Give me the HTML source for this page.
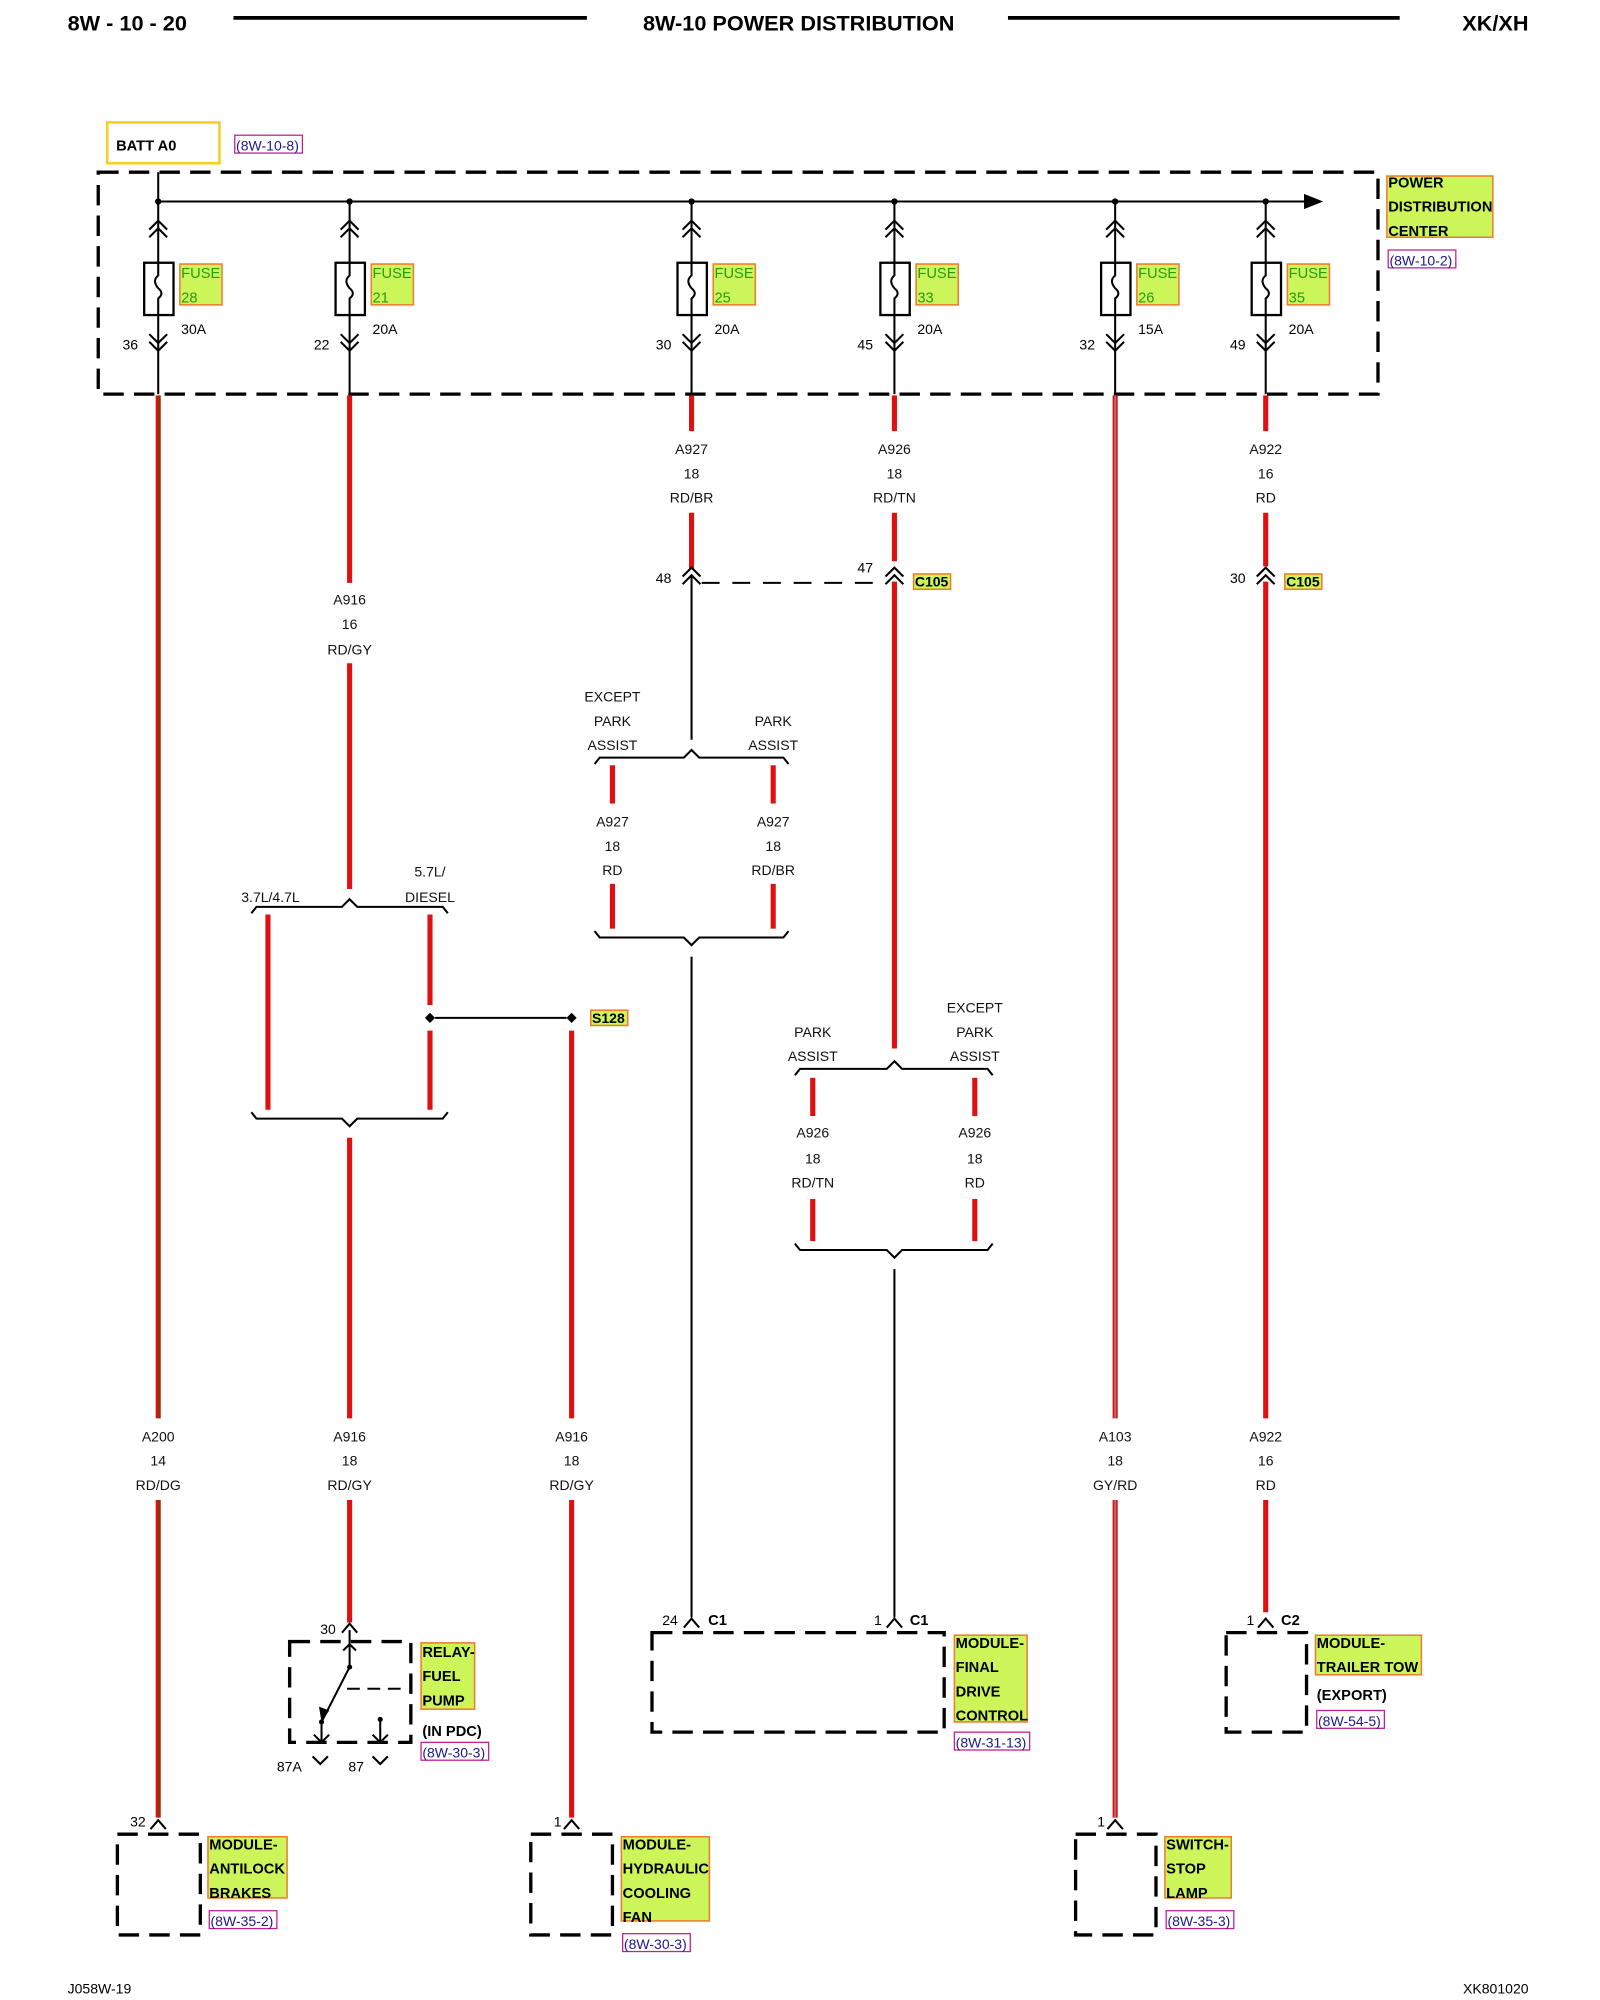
<!DOCTYPE html>
<html><head><meta charset="utf-8"><style>
html,body{margin:0;padding:0;background:#fff;}
svg{display:block;}
text{font-family:"Liberation Sans",sans-serif;}
.l{font-size:11px;text-anchor:middle;fill:#111;}
.b{font-size:11.5px;font-weight:bold;fill:#000;}
.f{font-size:11.5px;fill:#2a9a10;}
.r{font-size:11px;fill:#1a1a8a;}
.box{fill:#ccf55a;stroke:#f07a30;stroke-width:1.2;}
.rb{fill:none;stroke:#c02090;stroke-width:1;}
.red{stroke:#e01010;stroke-width:4;fill:none;}
.k{stroke:#000;stroke-width:1.6;fill:none;}
.d{stroke:#000;stroke-width:2.6;fill:none;stroke-dasharray:16,8;}
</style></head><body>
<svg width="1600" height="2000" viewBox="0 0 1254 1568" preserveAspectRatio="none" xmlns="http://www.w3.org/2000/svg">
<!-- header -->
<text x="53" y="24" style="font-size:17px;font-weight:bold">8W - 10 - 20</text>
<line x1="183" y1="14" x2="460" y2="14" stroke="#000" stroke-width="3"/>
<text x="626" y="24" style="font-size:17px;font-weight:bold" text-anchor="middle">8W-10 POWER DISTRIBUTION</text>
<line x1="790" y1="14" x2="1097" y2="14" stroke="#000" stroke-width="3"/>
<text x="1198" y="24" style="font-size:17px;font-weight:bold" text-anchor="end">XK/XH</text>

<!-- BATT -->
<rect x="84" y="96" width="88" height="32" fill="#fff" stroke="#f5d020" stroke-width="2"/>
<text x="91" y="118" class="b">BATT A0</text>
<rect x="184" y="106" width="53" height="14" class="rb"/><text x="185" y="118" class="r">(8W-10-8)</text>

<!-- PDC -->
<rect x="77" y="135" width="1003" height="174" class="d"/>
<line x1="124" y1="135" x2="124" y2="158" class="k"/>
<line x1="124" y1="158" x2="1025" y2="158" class="k"/>
<polygon points="1022,152 1037,158 1022,164" fill="#000"/>
<rect x="1087" y="138" width="83" height="48" class="box"/>
<text x="1088" y="147" class="b">POWER</text><text x="1088" y="166" class="b">DISTRIBUTION</text><text x="1088" y="185" class="b">CENTER</text>
<rect x="1088" y="196" width="53" height="14" class="rb"/><text x="1089" y="208" class="r">(8W-10-2)</text>

<g class="fuses">
<g transform="translate(124,0)">
<circle cx="0" cy="158" r="2.5"/><line x1="0" y1="158" x2="0" y2="309" class="k"/>
<polyline points="-7,186 0,179 7,186" class="k"/><polyline points="-7,180 0,173 7,180" class="k"/>
<rect x="-11" y="206" width="23" height="41" fill="#fff" stroke="#000" stroke-width="1.8"/>
<path d="M0,206 v10 q-5,4 0,10 q5,4 0,8 v13" class="k"/>
<polyline points="-7,262 0,269 7,262" class="k"/><polyline points="-7,268 0,275 7,268" class="k"/>
</g>
<g transform="translate(274,0)">
<circle cx="0" cy="158" r="2.5"/><line x1="0" y1="158" x2="0" y2="309" class="k"/>
<polyline points="-7,186 0,179 7,186" class="k"/><polyline points="-7,180 0,173 7,180" class="k"/>
<rect x="-11" y="206" width="23" height="41" fill="#fff" stroke="#000" stroke-width="1.8"/>
<path d="M0,206 v10 q-5,4 0,10 q5,4 0,8 v13" class="k"/>
<polyline points="-7,262 0,269 7,262" class="k"/><polyline points="-7,268 0,275 7,268" class="k"/>
</g>
<g transform="translate(542,0)">
<circle cx="0" cy="158" r="2.5"/><line x1="0" y1="158" x2="0" y2="309" class="k"/>
<polyline points="-7,186 0,179 7,186" class="k"/><polyline points="-7,180 0,173 7,180" class="k"/>
<rect x="-11" y="206" width="23" height="41" fill="#fff" stroke="#000" stroke-width="1.8"/>
<path d="M0,206 v10 q-5,4 0,10 q5,4 0,8 v13" class="k"/>
<polyline points="-7,262 0,269 7,262" class="k"/><polyline points="-7,268 0,275 7,268" class="k"/>
</g>
<g transform="translate(701,0)">
<circle cx="0" cy="158" r="2.5"/><line x1="0" y1="158" x2="0" y2="309" class="k"/>
<polyline points="-7,186 0,179 7,186" class="k"/><polyline points="-7,180 0,173 7,180" class="k"/>
<rect x="-11" y="206" width="23" height="41" fill="#fff" stroke="#000" stroke-width="1.8"/>
<path d="M0,206 v10 q-5,4 0,10 q5,4 0,8 v13" class="k"/>
<polyline points="-7,262 0,269 7,262" class="k"/><polyline points="-7,268 0,275 7,268" class="k"/>
</g>
<g transform="translate(874,0)">
<circle cx="0" cy="158" r="2.5"/><line x1="0" y1="158" x2="0" y2="309" class="k"/>
<polyline points="-7,186 0,179 7,186" class="k"/><polyline points="-7,180 0,173 7,180" class="k"/>
<rect x="-11" y="206" width="23" height="41" fill="#fff" stroke="#000" stroke-width="1.8"/>
<path d="M0,206 v10 q-5,4 0,10 q5,4 0,8 v13" class="k"/>
<polyline points="-7,262 0,269 7,262" class="k"/><polyline points="-7,268 0,275 7,268" class="k"/>
</g>
<g transform="translate(992,0)">
<circle cx="0" cy="158" r="2.5"/><line x1="0" y1="158" x2="0" y2="309" class="k"/>
<polyline points="-7,186 0,179 7,186" class="k"/><polyline points="-7,180 0,173 7,180" class="k"/>
<rect x="-11" y="206" width="23" height="41" fill="#fff" stroke="#000" stroke-width="1.8"/>
<path d="M0,206 v10 q-5,4 0,10 q5,4 0,8 v13" class="k"/>
<polyline points="-7,262 0,269 7,262" class="k"/><polyline points="-7,268 0,275 7,268" class="k"/>
</g>
</g>
<!-- fuse labels -->
<rect x="141" y="207" width="33" height="32" class="box"/><text x="142" y="218" class="f">FUSE</text><text x="142" y="237" class="f">28</text><text x="142" y="262" style="font-size:11px">30A</text><text x="96" y="274" style="font-size:11px">36</text>
<rect x="291" y="207" width="33" height="32" class="box"/><text x="292" y="218" class="f">FUSE</text><text x="292" y="237" class="f">21</text><text x="292" y="262" style="font-size:11px">20A</text><text x="246" y="274" style="font-size:11px">22</text>
<rect x="559" y="207" width="33" height="32" class="box"/><text x="560" y="218" class="f">FUSE</text><text x="560" y="237" class="f">25</text><text x="560" y="262" style="font-size:11px">20A</text><text x="514" y="274" style="font-size:11px">30</text>
<rect x="718" y="207" width="33" height="32" class="box"/><text x="719" y="218" class="f">FUSE</text><text x="719" y="237" class="f">33</text><text x="719" y="262" style="font-size:11px">20A</text><text x="672" y="274" style="font-size:11px">45</text>
<rect x="891" y="207" width="33" height="32" class="box"/><text x="892" y="218" class="f">FUSE</text><text x="892" y="237" class="f">26</text><text x="892" y="262" style="font-size:11px">15A</text><text x="846" y="274" style="font-size:11px">32</text>
<rect x="1009" y="207" width="33" height="32" class="box"/><text x="1010" y="218" class="f">FUSE</text><text x="1010" y="237" class="f">35</text><text x="1010" y="262" style="font-size:11px">20A</text><text x="964" y="274" style="font-size:11px">49</text>

<!-- wire 124 -->
<line x1="124" y1="310" x2="124" y2="1112" class="red"/>
<line x1="124" y1="1176" x2="124" y2="1425" class="red"/>
<line x1="125" y1="310" x2="125" y2="1112" stroke="#3a5a10" stroke-width="1"/>
<line x1="125" y1="1176" x2="125" y2="1425" stroke="#3a5a10" stroke-width="1"/>
<text x="124" y="1130" class="l">A200</text><text x="124" y="1149" class="l">14</text><text x="124" y="1168" class="l">RD/DG</text>
<polyline points="118,1434 124,1427 130,1434" class="k"/><text x="102" y="1432" style="font-size:11px">32</text>
<rect x="92" y="1438" width="65" height="79" class="d"/>
<rect x="163" y="1440" width="62" height="48" class="box"/>
<text x="164" y="1450" class="b">MODULE-</text><text x="164" y="1469" class="b">ANTILOCK</text><text x="164" y="1488" class="b">BRAKES</text>
<rect x="164" y="1498" width="53" height="14" class="rb"/><text x="165" y="1510" class="r">(8W-35-2)</text>

<!-- wire 274 -->
<line x1="274" y1="310" x2="274" y2="457" class="red"/>
<text x="274" y="474" class="l">A916</text><text x="274" y="493" class="l">16</text><text x="274" y="513" class="l">RD/GY</text>
<line x1="274" y1="520" x2="274" y2="697" class="red"/>
<text x="212" y="707" class="l">3.7L/4.7L</text><text x="337" y="687" class="l">5.7L/</text><text x="337" y="707" class="l">DIESEL</text>
<path d="M197,716 l4,-5 h67 l6,-6 l6,6 h67 l4,5" class="k"/>
<line x1="210" y1="717" x2="210" y2="870" class="red"/>
<line x1="337" y1="717" x2="337" y2="788" class="red"/>
<line x1="337" y1="808" x2="337" y2="870" class="red"/>
<polygon points="337,794 341,798 337,802 333,798" fill="#000"/>
<line x1="341" y1="798" x2="444" y2="798" class="k" stroke-width="2.2"/>
<polygon points="448,794 452,798 448,802 444,798" fill="#000"/>
<rect x="463" y="792" width="29" height="12" class="box"/><text x="464" y="802" class="b" style="font-size:11px">S128</text>
<path d="M197,872 l4,5 h67 l6,6 l6,-6 h67 l4,-5" class="k"/>
<line x1="274" y1="892" x2="274" y2="1112" class="red"/>
<text x="274" y="1130" class="l">A916</text><text x="274" y="1149" class="l">18</text><text x="274" y="1168" class="l">RD/GY</text>
<line x1="274" y1="1176" x2="274" y2="1272" class="red"/>
<polyline points="268,1280 274,1273 280,1280" class="k"/><text x="251" y="1281" style="font-size:11px">30</text>
<!-- relay -->
<rect x="227" y="1287" width="95" height="79" class="d"/>
<line x1="274" y1="1278" x2="274" y2="1308" class="k"/>
<polyline points="269,1294 274,1289 279,1294" class="k"/>
<circle cx="274" cy="1307" r="2"/>
<line x1="274" y1="1307" x2="252" y2="1350" class="k" stroke-width="2"/>
<polygon points="252,1350 250,1338 258,1341" fill="#000"/>
<circle cx="252" cy="1350" r="2"/>
<line x1="252" y1="1350" x2="252" y2="1366" class="k"/>
<polyline points="246,1360 252,1366 258,1360" class="k"/>
<circle cx="298" cy="1348" r="2"/>
<line x1="298" y1="1348" x2="298" y2="1366" class="k"/>
<polyline points="292,1360 298,1366 304,1360" class="k"/>
<line x1="272" y1="1324" x2="320" y2="1324" class="k" stroke-dasharray="10,6"/>
<polyline points="245,1377 251,1383 257,1377" class="k"/><polyline points="292,1377 298,1383 304,1377" class="k"/>
<text x="217" y="1389" style="font-size:11px">87A</text><text x="273" y="1389" style="font-size:11px">87</text>
<rect x="330" y="1288" width="42" height="52" class="box"/>
<text x="331" y="1299" class="b">RELAY-</text><text x="331" y="1318" class="b">FUEL</text><text x="331" y="1337" class="b">PUMP</text>
<text x="331" y="1361" class="b">(IN PDC)</text>
<rect x="330" y="1366" width="53" height="14" class="rb"/><text x="331" y="1378" class="r">(8W-30-3)</text>

<!-- wire 448 -->
<line x1="448" y1="808" x2="448" y2="1112" class="red"/>
<text x="448" y="1130" class="l">A916</text><text x="448" y="1149" class="l">18</text><text x="448" y="1168" class="l">RD/GY</text>
<line x1="448" y1="1176" x2="448" y2="1425" class="red"/>
<polyline points="442,1434 448,1427 454,1434" class="k"/><text x="434" y="1432" style="font-size:11px">1</text>
<rect x="416" y="1438" width="64" height="79" class="d"/>
<rect x="487" y="1440" width="69" height="66" class="box"/>
<text x="488" y="1450" class="b">MODULE-</text><text x="488" y="1469" class="b">HYDRAULIC</text><text x="488" y="1488" class="b">COOLING</text><text x="488" y="1507" class="b">FAN</text>
<rect x="488" y="1516" width="53" height="14" class="rb"/><text x="489" y="1528" class="r">(8W-30-3)</text>

<!-- wire 542 -->
<line x1="542" y1="310" x2="542" y2="338" class="red"/>
<text x="542" y="356" class="l">A927</text><text x="542" y="375" class="l">18</text><text x="542" y="394" class="l">RD/BR</text>
<line x1="542" y1="402" x2="542" y2="446" class="red"/>
<polyline points="535,452 542,445 549,452" class="k"/><polyline points="535,458 542,451 549,458" class="k"/>
<text x="514" y="457" style="font-size:11px">48</text>
<line x1="550" y1="457" x2="690" y2="457" class="k" stroke-dasharray="14,10"/>
<line x1="542" y1="452" x2="542" y2="580" class="k"/>
<text x="480" y="550" class="l">EXCEPT</text><text x="480" y="569" class="l">PARK</text><text x="480" y="588" class="l">ASSIST</text>
<text x="606" y="569" class="l">PARK</text><text x="606" y="588" class="l">ASSIST</text>
<path d="M466,599 l4,-5 h66 l6,-6 l6,6 h66 l4,5" class="k"/>
<line x1="480" y1="600" x2="480" y2="630" class="red"/><line x1="606" y1="600" x2="606" y2="630" class="red"/>
<text x="480" y="648" class="l">A927</text><text x="480" y="667" class="l">18</text><text x="480" y="686" class="l">RD</text>
<text x="606" y="648" class="l">A927</text><text x="606" y="667" class="l">18</text><text x="606" y="686" class="l">RD/BR</text>
<line x1="480" y1="693" x2="480" y2="728" class="red"/><line x1="606" y1="693" x2="606" y2="728" class="red"/>
<path d="M466,730 l4,5 h66 l6,6 l6,-6 h66 l4,-5" class="k"/>
<line x1="542" y1="750" x2="542" y2="1268" class="k"/>
<polyline points="536,1276 542,1269 548,1276" class="k"/>
<text x="519" y="1274" style="font-size:11px">24</text><text x="555" y="1274" class="b">C1</text>

<!-- wire 701 -->
<line x1="701" y1="310" x2="701" y2="338" class="red"/>
<text x="701" y="356" class="l">A926</text><text x="701" y="375" class="l">18</text><text x="701" y="394" class="l">RD/TN</text>
<line x1="701" y1="402" x2="701" y2="440" class="red"/>
<polyline points="694,452 701,445 708,452" class="k"/><polyline points="694,458 701,451 708,458" class="k"/>
<text x="672" y="449" style="font-size:11px">47</text>
<rect x="716" y="450" width="29" height="12" class="box"/><text x="717" y="460" class="b" style="font-size:11px">C105</text>
<line x1="701" y1="456" x2="701" y2="822" class="red"/>
<text x="637" y="813" class="l">PARK</text><text x="637" y="832" class="l">ASSIST</text>
<text x="764" y="794" class="l">EXCEPT</text><text x="764" y="813" class="l">PARK</text><text x="764" y="832" class="l">ASSIST</text>
<path d="M623,843 l4,-5 h68 l6,-6 l6,6 h67 l4,5" class="k"/>
<line x1="637" y1="845" x2="637" y2="875" class="red"/><line x1="764" y1="845" x2="764" y2="875" class="red"/>
<text x="637" y="892" class="l">A926</text><text x="637" y="912" class="l">18</text><text x="637" y="931" class="l">RD/TN</text>
<text x="764" y="892" class="l">A926</text><text x="764" y="912" class="l">18</text><text x="764" y="931" class="l">RD</text>
<line x1="637" y1="940" x2="637" y2="973" class="red"/><line x1="764" y1="940" x2="764" y2="973" class="red"/>
<path d="M623,975 l4,5 h68 l6,6 l6,-6 h67 l4,-5" class="k"/>
<line x1="701" y1="995" x2="701" y2="1268" class="k"/>
<polyline points="695,1276 701,1269 707,1276" class="k"/>
<text x="685" y="1274" style="font-size:11px">1</text><text x="713" y="1274" class="b">C1</text>
<rect x="511" y="1280" width="229" height="78" class="d"/>
<rect x="748" y="1282" width="57" height="68" class="box"/>
<text x="749" y="1292" class="b">MODULE-</text><text x="749" y="1311" class="b">FINAL</text><text x="749" y="1330" class="b">DRIVE</text><text x="749" y="1349" class="b">CONTROL</text>
<rect x="748" y="1358" width="59" height="14" class="rb"/><text x="749" y="1370" class="r">(8W-31-13)</text>

<!-- wire 874 -->
<line x1="874" y1="310" x2="874" y2="1112" class="red"/>
<text x="874" y="1130" class="l">A103</text><text x="874" y="1149" class="l">18</text><text x="874" y="1168" class="l">GY/RD</text>
<line x1="874" y1="1176" x2="874" y2="1425" class="red"/>
<line x1="874" y1="310" x2="874" y2="1112" stroke="#999" stroke-width="1"/>
<line x1="874" y1="1176" x2="874" y2="1425" stroke="#999" stroke-width="1"/>
<polyline points="868,1434 874,1427 880,1434" class="k"/><text x="860" y="1432" style="font-size:11px">1</text>
<rect x="843" y="1438" width="63" height="79" class="d"/>
<rect x="913" y="1440" width="52" height="48" class="box"/>
<text x="914" y="1450" class="b">SWITCH-</text><text x="914" y="1469" class="b">STOP</text><text x="914" y="1488" class="b">LAMP</text>
<rect x="914" y="1498" width="53" height="14" class="rb"/><text x="915" y="1510" class="r">(8W-35-3)</text>

<!-- wire 992 -->
<line x1="992" y1="310" x2="992" y2="338" class="red"/>
<text x="992" y="356" class="l">A922</text><text x="992" y="375" class="l">16</text><text x="992" y="394" class="l">RD</text>
<line x1="992" y1="402" x2="992" y2="444" class="red"/>
<polyline points="985,452 992,445 999,452" class="k"/><polyline points="985,458 992,451 999,458" class="k"/>
<text x="964" y="457" style="font-size:11px">30</text>
<rect x="1007" y="450" width="29" height="12" class="box"/><text x="1008" y="460" class="b" style="font-size:11px">C105</text>
<line x1="992" y1="456" x2="992" y2="1112" class="red"/>
<text x="992" y="1130" class="l">A922</text><text x="992" y="1149" class="l">16</text><text x="992" y="1168" class="l">RD</text>
<line x1="992" y1="1176" x2="992" y2="1264" class="red"/>
<polyline points="986,1276 992,1269 998,1276" class="k"/>
<text x="977" y="1274" style="font-size:11px">1</text><text x="1004" y="1274" class="b">C2</text>
<rect x="961" y="1280" width="63" height="78" class="d"/>
<rect x="1031" y="1282" width="83" height="31" class="box"/>
<text x="1032" y="1292" class="b">MODULE-</text><text x="1032" y="1311" class="b">TRAILER TOW</text>
<text x="1032" y="1333" class="b">(EXPORT)</text>
<rect x="1032" y="1341" width="53" height="14" class="rb"/><text x="1033" y="1353" class="r">(8W-54-5)</text>

<!-- footer -->
<text x="53" y="1563" style="font-size:11px">J058W-19</text>
<text x="1198" y="1563" style="font-size:11px" text-anchor="end">XK801020</text>
</svg>
</body></html>
